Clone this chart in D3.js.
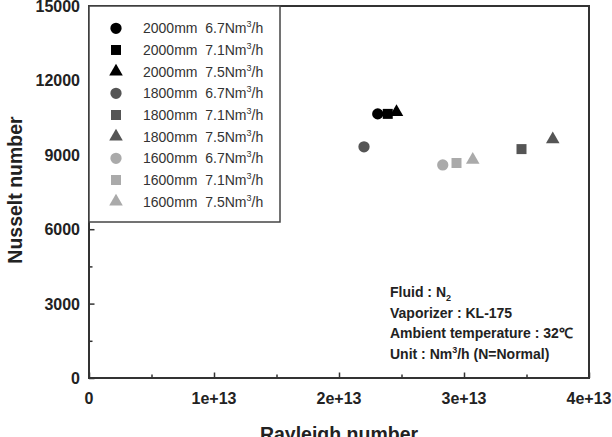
<!DOCTYPE html>
<html>
<head>
<meta charset="utf-8">
<script src="https://cdn.jsdelivr.net/npm/d3@7"></script>
<style>
  body { margin: 0; background: #fff; }
  svg text { font-family: "Liberation Sans", Arial, sans-serif; }
</style>
</head>
<body>
<svg id="chart" width="612" height="437"></svg>
<script>
// data
var lengths = ["2000mm", "2000mm", "2000mm", "1800mm", "1800mm", "1800mm", "1600mm", "1600mm", "1600mm"];
var flows = ["6.7", "7.1", "7.5", "6.7", "7.1", "7.5", "6.7", "7.1", "7.5"];
var rayleigh = [2.31e13, 2.39e13, 2.46e13, 2.20e13, 3.46e13, 3.71e13, 2.83e13, 2.94e13, 3.07e13];
var nusselt = [10650, 10650, 10720, 9320, 9230, 9620, 8590, 8670, 8800];
var shapeNames = ["circle", "square", "triangle"];
var tones = ["#000000", "#555555", "#aaaaaa"];

var xTicks = [0, 1e13, 2e13, 3e13, 4e13];
var xTickLabels = ["0", "1e+13", "2e+13", "3e+13", "4e+13"];
var yTicks = [0, 3000, 6000, 9000, 12000, 15000];

var infoLines = ["Fluid : N", "Vaporizer : KL-175", "Ambient temperature : 32\u2103", "Unit : Nm"];

var svg = d3.select("#chart");

var x = d3.scaleLinear().domain([0, 4e13]).range([89, 589]);
var y = d3.scaleLinear().domain([0, 15000]).range([378, 6]);

var axisColor = "#333";

// frame (top and right sides, no ticks)
svg.append("rect")
  .attr("x", x(0)).attr("y", y(15000))
  .attr("width", x(4e13) - x(0)).attr("height", y(0) - y(15000))
  .attr("fill", "none").attr("stroke", axisColor).attr("stroke-width", 2);

function styleTicks(g) {
  g.select(".domain").remove();
  g.selectAll("line").attr("stroke", axisColor).attr("stroke-width", 1.5);
}

// bottom axis, ticks pointing inward (minor then major)
var xMinor = d3.range(0.5e13, 4e13, 1e13);
svg.append("g")
  .attr("transform", "translate(0," + y(0) + ")")
  .call(d3.axisTop(x).tickValues(xMinor).tickSize(3.5).tickFormat(""))
  .call(styleTicks);
svg.append("g")
  .attr("transform", "translate(0," + y(0) + ")")
  .call(d3.axisTop(x).tickValues(xTicks).tickSize(5.5).tickFormat(""))
  .call(styleTicks);

svg.append("g")
  .selectAll("text").data(xTicks).join("text")
  .attr("x", function (d) { return x(d); })
  .attr("y", 404)
  .attr("text-anchor", "middle")
  .attr("font-size", 16).attr("font-weight", "bold").attr("fill", "#222")
  .text(function (d, i) { return xTickLabels[i]; });

// left axis
var yMinor = d3.range(1500, 15000, 3000);
svg.append("g")
  .attr("transform", "translate(" + x(0) + ",0)")
  .call(d3.axisRight(y).tickValues(yMinor).tickSize(3.5).tickFormat(""))
  .call(styleTicks);
svg.append("g")
  .attr("transform", "translate(" + x(0) + ",0)")
  .call(d3.axisRight(y).tickValues(yTicks).tickSize(5.5).tickFormat(""))
  .call(styleTicks);

svg.append("g")
  .selectAll("text").data(yTicks).join("text")
  .attr("x", 80)
  .attr("y", function (d) { return y(d) + 6; })
  .attr("text-anchor", "end")
  .attr("font-size", 16).attr("font-weight", "bold").attr("fill", "#222")
  .text(function (d) { return d; });

// axis titles
svg.append("text")
  .attr("x", (x(0) + x(4e13)) / 2).attr("y", 441)
  .attr("text-anchor", "middle")
  .attr("font-size", 19.5).attr("font-weight", "bold").attr("fill", "#222")
  .text("Rayleigh number");

svg.append("text")
  .attr("transform", "translate(22," + (y(7500) - 2) + ") rotate(-90)")
  .attr("text-anchor", "middle")
  .attr("font-size", 19.5).attr("font-weight", "bold").attr("fill", "#222")
  .text("Nusselt number");

function symbolFor(i) {
  var s = shapeNames[i % 3];
  if (s == "circle") return d3.symbol().type(d3.symbolCircle).size(100)();
  if (s == "square") return d3.symbol().type(d3.symbolSquare).size(100)();
  return d3.symbol().type(d3.symbolTriangle).size(80)();
}

// points
svg.append("g")
  .selectAll("path").data(rayleigh).join("path")
  .attr("transform", function (d, i) { return "translate(" + x(d) + "," + y(nusselt[i]) + ")"; })
  .attr("d", function (d, i) { return symbolFor(i); })
  .attr("fill", function (d, i) { return tones[Math.floor(i / 3)]; });

// legend
var legend = svg.append("g");
legend.append("rect")
  .attr("x", 89).attr("y", 6).attr("width", 191).attr("height", 216)
  .attr("fill", "#fff").attr("stroke", "#444").attr("stroke-width", 1.5);

var rows = legend.selectAll("g.row").data(lengths).join("g")
  .attr("class", "row")
  .attr("transform", function (d, i) { return "translate(0," + (28.3 + i * 21.67) + ")"; });

rows.append("path")
  .attr("transform", "translate(116,0)")
  .attr("d", function (d, i) { return symbolFor(i); })
  .attr("fill", function (d, i) { return tones[Math.floor(i / 3)]; });

var lt = rows.append("text")
  .attr("x", 143).attr("y", 5)
  .attr("font-size", 14).attr("fill", "#333")
  .attr("xml:space", "preserve");
lt.append("tspan").text(function (d, i) { return d + "  " + flows[i] + "Nm"; });
lt.append("tspan").attr("dy", -6).attr("font-size", 9).text("3");
lt.append("tspan").attr("dy", 6).text("/h");

// info block
var info = svg.append("g")
  .selectAll("text").data(infoLines).join("text")
  .attr("x", 390)
  .attr("y", function (d, i) { return 297 + i * 20.5; })
  .attr("font-size", 14).attr("font-weight", "bold").attr("fill", "#222");
info.append("tspan").text(function (d) { return d; });
info.filter(function (d, i) { return i == 0; })
  .append("tspan").attr("dy", 4).attr("font-size", 9).text("2");
var unitLine = info.filter(function (d, i) { return i == 3; });
unitLine.append("tspan").attr("dy", -6).attr("font-size", 9).text("3");
unitLine.append("tspan").attr("dy", 6).text("/h (N=Normal)");
</script>
</body>
</html>
